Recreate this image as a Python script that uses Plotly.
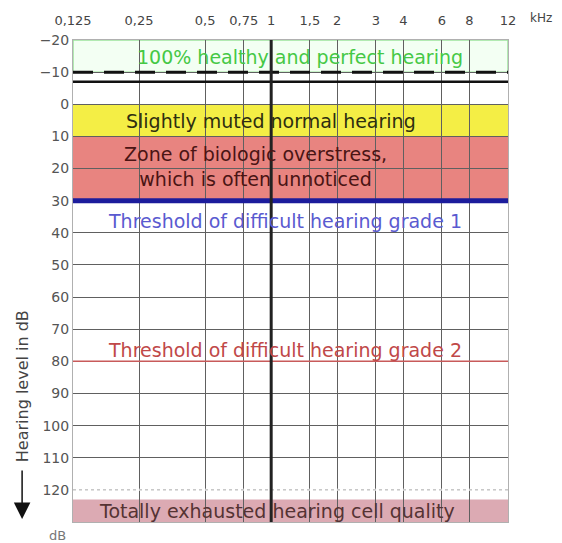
import numpy as np
import plotly.graph_objects as go

# Audiogram frequencies (kHz) and their printed labels
freqs_khz = [0.125, 0.25, 0.5, 0.75, 1, 1.5, 2, 3, 4, 6, 8, 12]
freq_labels = ["0,125", "0,25", "0,5", "0,75", "1", "1,5", "2", "3", "4", "6", "8", "12"]

# Hearing level axis (dB)
db_ticks = list(range(-20, 121, 10))
db_min, db_max = -20, 130

# Coloured hearing zones: top / bottom in dB
zone_names = ["healthy", "muted", "overstress", "exhausted"]
zone_top_db = [-20, 0, 10, 123]
zone_bottom_db = [-10, 10, 30, 130]
zone_fill = ["rgba(235,255,235,0.6)", "#f4ee45", "#e88480", "#dcaab3"]
zone_edge = ["#9de39d", "rgba(0,0,0,0)", "rgba(0,0,0,0)", "rgba(0,0,0,0)"]

# Reference levels
perfect_limit_db = -10
normal_limit_db = -7
grade1_db = 30
grade2_db = 80
lower_limit_db = 120
centre_freq_khz = 1

# Zone captions: text, centre frequency (kHz), level (dB), colour
caption_text = [
    "100% healthy and perfect hearing",
    "Slightly muted normal hearing",
    "Zone of biologic overstress,<br>which is often unnoticed",
    "Threshold of difficult hearing grade 1",
    "Threshold of difficult hearing grade 2",
    "Totally exhausted hearing cell quality",
]
caption_freq = [1.35, 1.0, 0.85, 1.16, 1.16, 1.06]
caption_db = [-14.7, 5.2, 19.3, 36.3, 76.5, 126.6]
caption_color = ["#45c845", "#2e2e10", "#4a1414", "#5a5ad0", "#c04848", "#553333"]

FONT = "DejaVu Sans"

fig = go.Figure()

# invisible trace to set up the axes
fig.add_trace(go.Scatter(x=[freqs_khz[0], freqs_khz[-1]], y=[db_min, db_max],
                         mode="markers", marker=dict(opacity=0), hoverinfo="skip",
                         showlegend=False))

shapes = []
for top, bot, fill, edge in zip(zone_top_db, zone_bottom_db, zone_fill, zone_edge):
    shapes.append(dict(type="rect", xref="x", yref="y",
                       x0=freqs_khz[0], x1=freqs_khz[-1], y0=top, y1=bot,
                       fillcolor=fill, line=dict(color=edge, width=1.5),
                       layer="below"))

def hline(y, color, width, dash="solid"):
    return dict(type="line", xref="x", yref="y", x0=freqs_khz[0], x1=freqs_khz[-1],
                y0=y, y1=y, line=dict(color=color, width=width, dash=dash),
                layer="above")

# soften the lowest grid line into a dotted one
shapes.append(hline(lower_limit_db, "white", 2))
shapes.append(hline(lower_limit_db, "#aaaaaa", 1, "dot"))
shapes.append(hline(perfect_limit_db, "#111111", 3, "20px,11px"))
shapes.append(hline(normal_limit_db, "#111111", 2.5))
shapes.append(hline(grade1_db, "#1c1c9c", 5))
shapes.append(hline(grade2_db, "#c85a5a", 1.5))
shapes.append(dict(type="line", xref="x", yref="y", x0=centre_freq_khz, x1=centre_freq_khz,
                   y0=db_min, y1=db_max, line=dict(color="#222222", width=3),
                   layer="above"))

annotations = []
for txt, f, db, col in zip(caption_text, caption_freq, caption_db, caption_color):
    annotations.append(dict(x=np.log10(f), y=db, xref="x", yref="y", text=txt,
                            showarrow=False, font=dict(family=FONT, size=19, color=col),
                            xanchor="center", yanchor="middle"))

# axis title with downward arrow
annotations.append(dict(xref="paper", yref="paper", x=-0.117, y=0.282,
                        xanchor="center", yanchor="middle",
                        text="Hearing level in dB", textangle=-90, showarrow=False,
                        font=dict(family=FONT, size=16, color="#444444")))
annotations.append(dict(xref="paper", yref="paper", x=-0.117, y=0.006,
                        ax=0, ay=-50, text="", showarrow=True, arrowhead=2,
                        arrowsize=2.2, arrowwidth=1.5, arrowcolor="#111111"))
annotations.append(dict(xref="paper", yref="paper", x=-0.035, y=-0.027, text="dB",
                        xanchor="center", yanchor="middle",
                        showarrow=False, font=dict(family=FONT, size=13, color="#777777")))
annotations.append(dict(xref="paper", yref="paper", x=1.075, y=1.046, text="kHz",
                        xanchor="center", yanchor="middle",
                        showarrow=False, font=dict(family=FONT, size=12, color="#444444")))

fig.update_layout(
    width=562, height=543,
    margin=dict(l=73, r=54, t=40, b=21),
    paper_bgcolor="white", plot_bgcolor="white",
    shapes=shapes, annotations=annotations,
    showlegend=False,
    xaxis=dict(type="log", range=[np.log10(freqs_khz[0]), np.log10(freqs_khz[-1])],
               side="top", tickvals=freqs_khz, ticktext=freq_labels, ticks="",
               ticklabelstandoff=9,
               tickfont=dict(family=FONT, size=13, color="#444444"),
               showgrid=True, gridcolor="#606060", gridwidth=1,
               showline=True, linecolor="#b0b0b0", mirror=True, zeroline=False),
    yaxis=dict(range=[db_max, db_min], tickvals=db_ticks, ticks="",
               tickfont=dict(family=FONT, size=14, color="#555555"),
               showgrid=True, gridcolor="#606060", gridwidth=1,
               showline=True, linecolor="#b0b0b0", mirror=True, zeroline=False),
)

fig.write_html("out.html")
